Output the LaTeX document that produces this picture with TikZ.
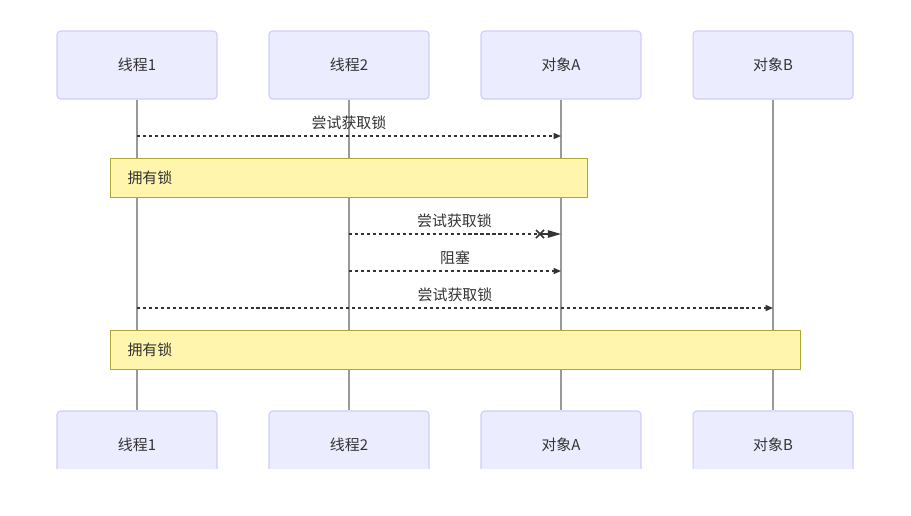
\documentclass[tikz,border=0pt]{standalone}
\usepackage{fontspec}
\setmainfont{Noto Sans CJK SC}
\usetikzlibrary{arrows.meta}
\definecolor{ink}{HTML}{333333}
\definecolor{actorfill}{HTML}{ECECFF}
\definecolor{actorline}{HTML}{CCCCFF}
\definecolor{lifegray}{HTML}{999999}
\definecolor{notefill}{HTML}{FFF5AD}
\definecolor{noteline}{HTML}{AAAA33}

\begin{document}
\begin{tikzpicture}[x=0.02cm,y=-0.02cm,font=\fontsize{8.5}{10}\selectfont,text=ink,
    >={Triangle[length=4.2pt,width=3.4pt]},
    actor/.style={draw=actorline,fill=actorfill,rounded corners=2pt,line width=0.6pt,
      minimum width=3.2cm,minimum height=1.36cm},
    lifeline/.style={lifegray,line width=0.7pt},
    msg/.style={->,ink,line width=0.8pt,dash pattern=on 1.8pt off 1.6pt},
    note/.style={draw=noteline,fill=notefill,line width=0.6pt,anchor=north west,
      align=left,minimum height=0.78cm,inner xsep=0.34cm}]
  \useasboundingbox (0,0) rectangle (911,515);

  % actors, top and bottom
  \foreach \id/\x/\name in {t1/137/线程1, t2/349/线程2, oa/561/对象A, ob/773/对象B}
    {\node[actor] (\id) at (\x,65) {\name};}
  \begin{scope}
    \clip (0,0) rectangle (911,468);
    \foreach \id/\x/\name in {t1/137/线程1, t2/349/线程2, oa/561/对象A, ob/773/对象B}
      {\node[actor] (\id b) at (\x,445) {\name};}
  \end{scope}

  % lifelines
  \foreach \id in {t1,t2,oa,ob}
    {\draw[lifeline] (\id) -- (\id b);}

  % message end points
  \coordinate (m1s) at (t1 |- 0,136);
  \coordinate (m1e) at (oa |- 0,136);
  \coordinate (m2s) at (t2 |- 0,234);
  \coordinate (m2e) at (oa |- 0,234);
  \coordinate (m2x) at (540,234);
  \coordinate (m3s) at (t2 |- 0,271);
  \coordinate (m3e) at (oa |- 0,271);
  \coordinate (m4s) at (t1 |- 0,308);
  \coordinate (m4e) at (ob |- 0,308);

  \draw[msg] (m1s) -- (m1e) node[midway,above] {尝试获取锁};

  \node[note,text width=8.86cm] (lock1) at (110,158) {拥有锁};

  \draw[msg,-] (m2s) -- (m2x)
    node[midway,above,xshift=0.2cm] {尝试获取锁};
  \draw[ink,line width=0.8pt,-{Triangle[length=7.5pt,width=4.2pt]}] (m2x) -- (m2e);
  \draw[ink,line width=0.9pt] (m2x) ++(-4,-4) -- ++(8,8) ++(0,-8) -- ++(-8,8);
  \draw[msg] (m3s) -- (m3e) node[midway,above] {阻塞};
  \draw[msg] (m4s) -- (m4e) node[midway,above] {尝试获取锁};

  \node[note,text width=13.12cm] (lock2) at (110,330) {拥有锁};
\end{tikzpicture}
\end{document}
